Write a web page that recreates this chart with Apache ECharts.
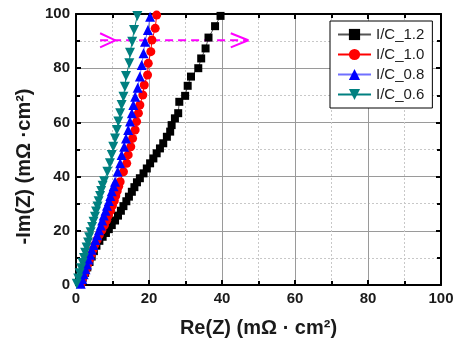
<!DOCTYPE html>
<html><head><meta charset="utf-8">
<script src="https://cdn.jsdelivr.net/npm/echarts@6/dist/echarts.min.js"></script>
<style>html,body{margin:0;padding:0;background:#fff}#c{width:455px;height:339px}</style>
</head><body><div id="c"></div>
<script>
const seriesNames = ['I/C_1.2','I/C_1.0','I/C_0.8','I/C_0.6'];
const xTicks = [0,20,40,60,80,100];
const yTicks = [0,20,40,60,80,100];

const ic12X = [1.2,1.8,2.5,3.1,3.7,4.3,4.9,5.6,6.4,7.3,8.2,9.0,9.8,10.7,11.5,12.3,13.0,13.8,14.5,15.3,16.0,16.7,17.5,18.5,19.4,20.3,21.2,22.1,23.0,23.9,24.9,25.8,26.2,27.1,28.0,28.3,29.9,30.6,31.5,33.5,34.3,35.5,36.3,38.1,39.6];
const ic12Y = [0.5,2.5,4.5,6.5,8.5,10.5,12.5,14.5,16.3,17.8,19.2,20.6,22.1,23.8,25.6,27.4,29.1,30.9,32.6,34.4,36.1,37.9,39.4,41.2,43.0,44.9,46.7,48.6,50.4,52.3,54.7,56.6,59.0,61.5,63.4,67.6,69.8,73.5,76.9,80.0,83.6,87.3,91.3,95.5,99.3];

const ic10X = [1.4,1.8,2.3,2.8,3.2,3.7,4.2,4.7,5.2,5.8,6.4,7.1,7.8,8.4,8.9,9.5,10.0,10.5,10.9,11.3,11.7,12.1,13.0,13.9,14.3,15.0,15.5,16.2,16.6,17.1,17.5,18.3,18.7,19.6,19.8,20.5,20.8,21.7,22.1];
const ic10Y = [0.5,2.3,4.1,5.9,7.7,9.5,11.3,13.1,14.9,16.7,18.5,20.3,22.1,23.9,25.7,27.5,29.3,31.1,32.9,34.7,36.4,38.1,41.8,44.9,48.0,51.0,54.1,57.2,60.3,63.4,66.4,70.1,73.8,77.5,81.8,86.1,90.4,94.7,99.6];

const ic08X = [1.3,1.7,2.1,2.6,3.0,3.4,3.9,4.3,4.8,5.3,5.8,6.3,6.8,7.2,7.6,8.1,8.5,9.0,9.4,9.8,10.3,10.7,11.4,12.1,12.5,13.2,13.7,14.3,14.8,15.3,15.7,16.2,16.9,17.5,18.0,18.5,18.9,19.7,20.3];
const ic08Y = [0.5,2.2,4.0,5.8,7.6,9.4,11.2,13.0,14.8,16.6,18.4,20.2,22.0,23.8,25.6,27.4,29.2,31.0,32.8,34.6,36.4,38.1,41.8,44.9,48.0,51.0,54.1,57.2,60.3,63.4,66.4,69.5,72.8,76.9,81.2,85.5,89.8,94.1,99.0];

const ic06X = [0.2,0.6,1.0,1.4,1.8,2.2,2.5,2.9,3.3,3.6,4.0,4.4,4.8,5.2,5.5,5.9,6.2,6.6,6.9,7.3,7.7,8.6,9.3,9.8,10.2,10.7,11.2,11.6,12.1,12.5,13.0,13.4,13.7,14.6,14.8,15.4,15.9,16.8];
const ic06Y = [0.5,2.4,4.3,6.2,8.1,10.0,11.9,13.8,15.7,17.6,19.5,21.4,23.3,25.2,27.1,29.0,30.9,32.8,34.7,36.6,38.3,41.8,44.9,48.0,51.0,54.1,57.2,60.3,63.4,66.4,69.5,73.2,77.1,81.8,85.7,89.8,94.1,99.3];

// magenta arrow annotation (data units)
const arrowY = 90.3;
const arrowLineX = [6.6, 47.2];
const arrowLeftX = [6.6, 10.8, 6.6];
const arrowRightX = [42.4, 47.2, 42.4];
const arrowHeadY = [92.9, 90.3, 87.7];

const zip = (xs, ys) => xs.map((x, i) => [x, ys[i]]);
const font = '"Liberation Sans", Arial, sans-serif';

const chart = echarts.init(document.getElementById('c'), null, {renderer: 'canvas'});

function axisCommon(show) {
  return {
    type: 'value', min: 0, max: 100, interval: 20,
    axisLine: {show: true, onZero: false, lineStyle: {color: '#000', width: 2}},
    axisTick: {show: true, inside: true, length: 5, lineStyle: {color: '#000', width: 2}},
    minorTick: {show: true, splitNumber: 2, length: 4, lineStyle: {color: '#000', width: 2}},
    splitLine: {show: show, lineStyle: {color: '#9a9a9a', width: 1}},
    minorSplitLine: {show: show, lineStyle: {color: '#c8c8c8', width: 1, type: [2, 2]}},
  };
}

const option = {
  animation: false,
  backgroundColor: '#fff',
  grid: {left: 76, right: 14, top: 14, bottom: 54, containLabel: false, outerBoundsMode: 'none'},
  xAxis: [
    Object.assign(axisCommon(true), {
      position: 'bottom',
      name: 'Re(Z) (mΩ · cm²)', nameLocation: 'middle', nameGap: 33,
      nameTextStyle: {fontFamily: font, fontSize: 20, fontWeight: 'bold', color: '#1a1a1a'},
      axisLabel: {margin: 6, fontFamily: font, fontSize: 15, fontWeight: 'bold', color: '#1a1a1a',
        formatter: v => xTicks.includes(v) ? String(v) : ''},
    }),
    Object.assign(axisCommon(false), {position: 'top', axisLabel: {show: false}}),
  ],
  yAxis: [
    Object.assign(axisCommon(true), {
      position: 'left',
      name: '-Im(Z) (mΩ ·cm²)', nameLocation: 'middle', nameGap: 42,
      nameTextStyle: {fontFamily: font, fontSize: 20, fontWeight: 'bold', color: '#1a1a1a', padding: [0, 34, 0, 0]},
      axisLabel: {margin: 6, fontFamily: font, fontSize: 15, fontWeight: 'bold', color: '#1a1a1a',
        formatter: v => yTicks.includes(v) ? String(v) : ''},
    }),
    Object.assign(axisCommon(false), {position: 'right', axisLabel: {show: false}}),
  ],
  legend: {
    data: seriesNames,
    orient: 'vertical', left: 330, top: 21,
    backgroundColor: '#fff', borderColor: '#000', borderWidth: 1, borderRadius: 0,
    padding: [6, 8, 6, 7],
    itemWidth: 33, itemHeight: 14, itemGap: 5,
    textStyle: {fontFamily: font, fontSize: 15, color: '#1a1a1a'},
  },
  series: [
    {name: seriesNames[0], type: 'line', data: zip(ic12X, ic12Y), symbol: 'rect', symbolSize: 8,
      itemStyle: {color: '#000'}, lineStyle: {color: '#555', width: 1}},
    {name: seriesNames[1], type: 'line', data: zip(ic10X, ic10Y), symbol: 'circle', symbolSize: 9,
      itemStyle: {color: '#ff0000'}, lineStyle: {color: '#ff0000', width: 1}},
    {name: seriesNames[2], type: 'line', data: zip(ic08X, ic08Y), symbol: 'triangle', symbolSize: 10,
      itemStyle: {color: '#0000ff'}, lineStyle: {color: '#7070ff', width: 1}},
    {name: seriesNames[3], type: 'line', data: zip(ic06X, ic06Y), symbol: 'triangle', symbolRotate: 180, symbolSize: 10,
      itemStyle: {color: '#008080'}, lineStyle: {color: '#008080', width: 1}},
    {type: 'line', data: arrowLineX.map(x => [x, arrowY]), symbol: 'none', silent: true,
      lineStyle: {color: '#ff00ff', width: 2, type: [8, 5]}},
    {type: 'line', data: zip(arrowLeftX, arrowHeadY), symbol: 'none', silent: true,
      lineStyle: {color: '#ff00ff', width: 2}},
    {type: 'line', data: zip(arrowRightX, arrowHeadY), symbol: 'none', silent: true,
      lineStyle: {color: '#ff00ff', width: 2}},
  ],
};
chart.setOption(option);
</script></body></html>
